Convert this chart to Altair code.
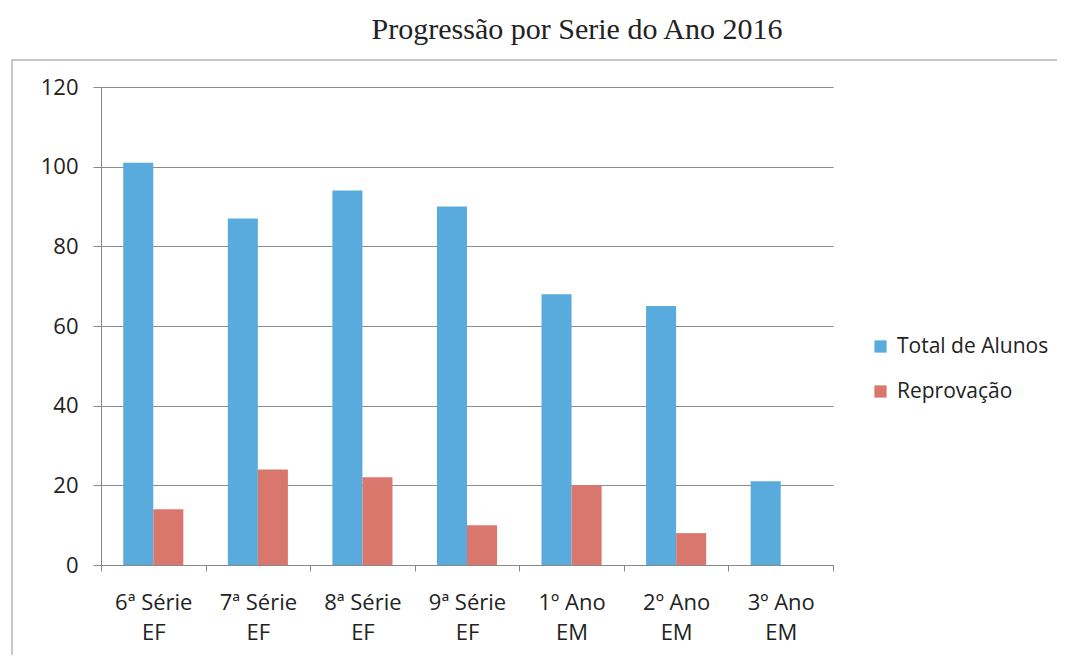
import altair as alt
import pandas as pd

categories = ["6ª Série\nEF", "7ª Série\nEF", "8ª Série\nEF", "9ª Série\nEF",
              "1º Ano\nEM", "2º Ano\nEM", "3º Ano\nEM"]
total_alunos = [101, 87, 94, 90, 68, 65, 21]
reprovacao = [14, 24, 22, 10, 20, 8, None]
series = ["Total de Alunos", "Reprovação"]
colors = ["#5AABDD", "#D9776C"]
y_ticks = [0, 20, 40, 60, 80, 100, 120]

rows = []
for c, t, r in zip(categories, total_alunos, reprovacao):
    rows.append({"cat": c, "serie": series[0], "valor": t})
    if r is not None:
        rows.append({"cat": c, "serie": series[1], "valor": r})
df = pd.DataFrame(rows)

label_font = "Open Sans"
fs = 22

bars = alt.Chart(df).mark_bar().encode(
    x=alt.X("cat:N", sort=categories,
            scale=alt.Scale(paddingInner=0, paddingOuter=0),
            axis=alt.Axis(title=None, labelAngle=0, labelExpr="split(datum.label, '\\n')",
                          labelFont=label_font, labelFontSize=fs, labelColor="#222",
                          labelLineHeight=30, labelPadding=21,
                          tickBand="extent", tickSize=6, tickColor="#888",
                          domainColor="#888", grid=False)),
    xOffset=alt.XOffset("serie:N", sort=series,
                        scale=alt.Scale(paddingInner=0, paddingOuter=0.74)),
    y=alt.Y("valor:Q", scale=alt.Scale(domain=[0, 120]),
            axis=alt.Axis(title=None, values=y_ticks, labelFont=label_font,
                          labelFontSize=fs, labelColor="#222", labelPadding=15,
                          tickSize=8, tickColor="#888", domainColor="#888",
                          gridColor="#8c8c8c", gridWidth=1)),
    color=alt.Color("serie:N", sort=series,
                    scale=alt.Scale(domain=series, range=colors),
                    legend=alt.Legend(title=None, orient="none", legendX=769, legendY=249,
                                      symbolType="square", symbolSize=150,
                                      symbolStrokeWidth=0,
                                      labelFont=label_font, labelFontSize=21,
                                      labelColor="#222", rowPadding=23,
                                      labelOffset=6)),
)

border = alt.Chart(alt.Data(values=[{}])).mark_rect(
    fill=None, stroke="#b5b5b5", strokeWidth=1.5
).encode(
    x=alt.value(-89), x2=alt.value(980), y=alt.value(-27), y2=alt.value(581)
)

chart = alt.layer(border, bars).properties(
    width=732, height=478,
    title=alt.TitleParams("Progressão por Serie do Ano 2016", font="Liberation Serif",
                          fontSize=30, fontWeight="normal", color="#222",
                          anchor="middle", dx=110, offset=14),
    autosize=alt.AutoSizeParams(type="none"),
    padding={"left": 93, "top": 79, "right": 224, "bottom": 90},
).configure_view(stroke=None)

chart.save("out.html", embed_options={"renderer": "svg", "actions": False})
